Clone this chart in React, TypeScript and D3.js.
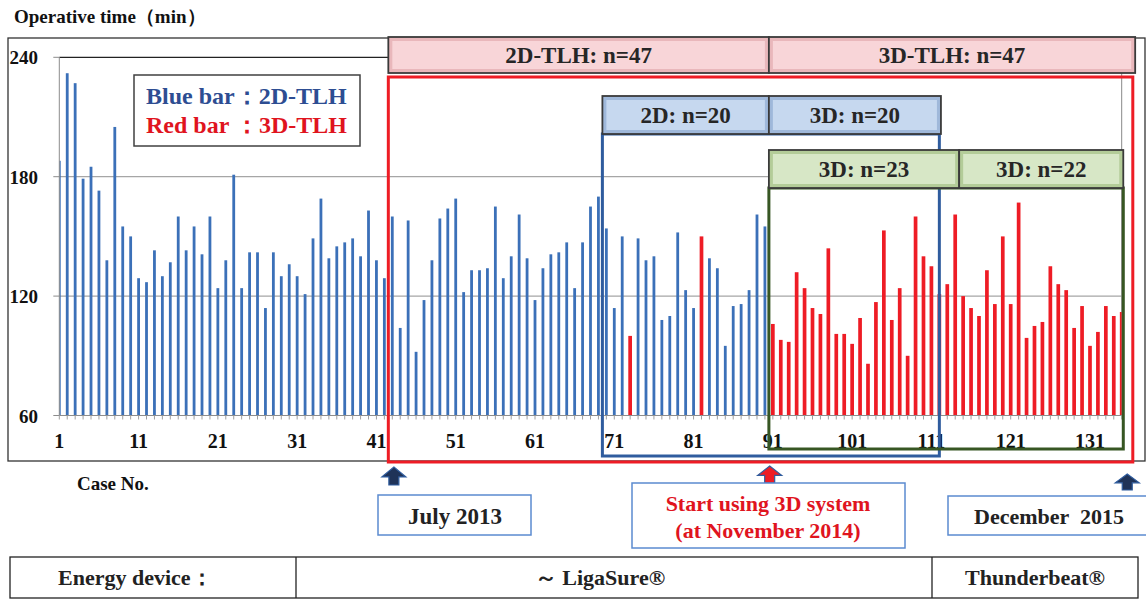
import React from "react";
import * as d3 from "d3";

// operative time (min) per case
const opTimes = [
  188, 232, 227, 179, 185, 173, 138, 205, 155, 150,
  129, 127, 143, 130, 137, 160, 143, 155, 141, 160,
  124, 138, 181, 124, 142, 142, 114, 142, 130, 136,
  130, 121, 149, 169, 139, 145, 147, 149, 140, 163,
  138, 129, 160, 104, 158, 92, 118, 138, 159, 164,
  169, 122, 133, 133, 134, 165, 129, 140, 161, 139,
  118, 134, 141, 142, 147, 124, 147, 165, 170, 154,
  114, 150, 100, 149, 138, 140, 108, 110, 152, 123,
  114, 150, 139, 134, 95, 115, 116, 123, 161, 155,
  106, 98, 97, 132, 124, 114, 111, 144, 101, 101,
  96, 109, 86, 117, 153, 108, 124, 90, 160, 140,
  135, 121, 126, 161, 120, 114, 110, 133, 116, 150,
  116, 167, 99, 105, 107, 135, 126, 123, 104, 115,
  95, 102, 115, 110, 112,
];
const caseNos = opTimes.map((_, i) => i + 1);
// 3D-TLH cases (red bars)
const redCases = [73, 82, ...caseNos.filter((c) => c >= 91)];
const yTicks = [60, 120, 180, 240];
const xTickLabels = [1, 11, 21, 31, 41, 51, 61, 71, 81, 91, 101, 111, 121, 131];

const BLUE = "#3b70b8";
const RED = "#ee1c25";
const SERIF = "'Liberation Serif', 'Times New Roman', serif";

const W = 1146;
const H = 599;

const Bevel = ({ x0, x1, y0, y1, fill, edge, label }) => (
  <g>
    <rect x={x0} y={y0} width={x1 - x0} height={y1 - y0} fill={edge} stroke="#3a3a3a" strokeWidth={1.8} />
    <rect x={x0 + 4} y={y0 + 4} width={x1 - x0 - 8} height={y1 - y0 - 8} fill={fill} />
    <text
      x={(x0 + x1) / 2}
      y={(y0 + y1) / 2 + 8}
      textAnchor="middle"
      fontFamily={SERIF}
      fontWeight="bold"
      fontSize={23}
      fill="#262626"
    >
      {label}
    </text>
  </g>
);

const UpArrow = ({ cx, top, bottom, fill, stroke }) => {
  const head = (bottom - top) * 0.55;
  const path = d3.path();
  path.moveTo(cx, top);
  path.lineTo(cx + 12, top + head);
  path.lineTo(cx + 5, top + head);
  path.lineTo(cx + 5, bottom);
  path.lineTo(cx - 5, bottom);
  path.lineTo(cx - 5, top + head);
  path.lineTo(cx - 12, top + head);
  path.closePath();
  return <path d={path.toString()} fill={fill} stroke={stroke} strokeWidth={1.2} />;
};

export default function App() {
  const x = d3.scaleLinear().domain([1, 135]).range([59.3, 1121.7]);
  const y = d3.scaleLinear().domain([60, 240]).range([415.5, 57.3]);
  const [px0, px1] = x.range();

  const blueW = 2.8;
  const redW = 3.7;

  return (
    <svg width={W} height={H} style={{ position: "absolute", left: 0, top: 0, background: "#fff" }}>
      <defs>
        <clipPath id="plotClip">
          <rect x={px0} y={y(240)} width={px1 - px0} height={y(60) - y(240)} />
        </clipPath>
      </defs>

      {/* title */}
      <text x={14} y={23} fontFamily={SERIF} fontWeight="bold" fontSize={19} fill="#111">
        Operative time（min）
      </text>

      {/* chart frame */}
      <rect x={8} y={38} width={1137} height={423} fill="none" stroke="#333" strokeWidth={1.3} />

      {/* gridlines */}
      {yTicks.slice(1, 3).map((t) => (
        <line key={t} x1={px0} x2={px1} y1={y(t)} y2={y(t)} stroke="#a6a6a6" strokeWidth={1.2} />
      ))}
      <line x1={px0} x2={px1} y1={y(240)} y2={y(240)} stroke="#222" strokeWidth={1.2} />
      <line x1={px1} x2={px1} y1={y(240)} y2={y(60)} stroke="#888" strokeWidth={1} />

      {/* bars */}
      <g clipPath="url(#plotClip)">
        {caseNos.map((c, i) => {
          const red = redCases.includes(c);
          const w = red ? redW : blueW;
          return (
            <rect
              key={c}
              x={x(c) - w / 2}
              y={y(opTimes[i])}
              width={w}
              height={y(60) - y(opTimes[i])}
              fill={red ? RED : BLUE}
            />
          );
        })}
      </g>

      {/* y axis */}
      <line x1={px0} x2={px0} y1={y(240)} y2={y(60)} stroke="#8c8c8c" strokeWidth={1} />
      {yTicks.map((t) => (
        <g key={t}>
          <line x1={px0 - 6} x2={px0} y1={y(t)} y2={y(t)} stroke="#8c8c8c" />
          <text x={38} y={y(t) + 7} textAnchor="end" fontFamily={SERIF} fontWeight="bold" fontSize={19} fill="#111">
            {t}
          </text>
        </g>
      ))}

      {/* x axis */}
      <line x1={px0} x2={px1} y1={y(60)} y2={y(60)} stroke="#8c8c8c" strokeWidth={1} />
      {caseNos.map((c) => (
        <line key={c} x1={x(c)} x2={x(c)} y1={y(60)} y2={y(60) + 4} stroke="#a0a0a0" />
      ))}
      {xTickLabels.map((t) => (
        <text key={t} x={x(t)} y={448} textAnchor="middle" fontFamily={SERIF} fontWeight="bold" fontSize={20} fill="#111">
          {t}
        </text>
      ))}
      <text x={77} y={490} fontFamily={SERIF} fontWeight="bold" fontSize={19} fill="#111">
        Case No.
      </text>

      {/* legend */}
      <rect x={134} y={75} width={226} height={71} fill="#fff" stroke="#404040" strokeWidth={1.5} />
      <text x={146} y={104} fontFamily={SERIF} fontWeight="bold" fontSize={24} fill="#2d4d92">
        Blue bar：2D-TLH
      </text>
      <text x={146} y={133} fontFamily={SERIF} fontWeight="bold" fontSize={24} fill="#e0141e">
        Red bar ：3D-TLH
      </text>

      {/* group boxes */}
      <rect x={x(42.5)} y={77} width={x(136.4) - x(42.5)} height={462 - 77} fill="none" stroke={RED} strokeWidth={3} />
      <rect x={x(69.5)} y={134} width={x(112) - x(69.5)} height={456 - 134} fill="none" stroke="#2f5c9e" strokeWidth={3} />
      <rect x={x(90.5)} y={188} width={x(135.2) - x(90.5)} height={449 - 188} fill="none" stroke="#375623" strokeWidth={3} />

      <Bevel x0={x(42.5)} x1={x(90.5)} y0={37} y1={73} fill="#f8d5d8" edge="#e9b7bb" label="2D-TLH: n=47" />
      <Bevel x0={x(90.5)} x1={x(136.7)} y0={37} y1={73} fill="#f8d5d8" edge="#e9b7bb" label="3D-TLH: n=47" />
      <Bevel x0={x(69.5)} x1={x(90.5)} y0={96} y1={134} fill="#c6d8ef" edge="#9fb8da" label="2D: n=20" />
      <Bevel x0={x(90.5)} x1={x(112.2)} y0={96} y1={134} fill="#c6d8ef" edge="#9fb8da" label="3D: n=20" />
      <Bevel x0={x(90.5)} x1={x(114.5)} y0={150} y1={188} fill="#d7e7c6" edge="#b3cc98" label="3D: n=23" />
      <Bevel x0={x(114.5)} x1={x(135.2)} y0={150} y1={188} fill="#d7e7c6" edge="#b3cc98" label="3D: n=22" />

      {/* timeline notes */}
      <UpArrow cx={x(43.2)} top={467} bottom={485} fill="#1f3358" stroke="#2f5c9e" />
      <rect x={378} y={495} width={153} height={40} fill="#fff" stroke="#5b8bd0" strokeWidth={1.5} />
      <text x={455} y={524} textAnchor="middle" fontFamily={SERIF} fontWeight="bold" fontSize={23} fill="#222">
        July 2013
      </text>

      <UpArrow cx={x(90.6)} top={466} bottom={483} fill={RED} stroke="#2f5c9e" />
      <rect x={632} y={483} width={273} height={65} fill="#fff" stroke="#5b8bd0" strokeWidth={1.5} />
      <text x={768} y={511} textAnchor="middle" fontFamily={SERIF} fontWeight="bold" fontSize={22} fill="#e0141e">
        Start using 3D system
      </text>
      <text x={768} y={538} textAnchor="middle" fontFamily={SERIF} fontWeight="bold" fontSize={22} fill="#e0141e">
        (at November 2014)
      </text>

      <UpArrow cx={x(135.7)} top={474} bottom={490} fill="#1f3358" stroke="#2f5c9e" />
      <rect x={948} y={496} width={210} height={39} fill="#fff" stroke="#5b8bd0" strokeWidth={1.5} />
      <text x={1049} y={524} textAnchor="middle" fontFamily={SERIF} fontWeight="bold" fontSize={22} fill="#222" style={{ whiteSpace: "pre" }}>
        December  2015
      </text>

      {/* energy device table */}
      <rect x={10} y={557} width={1128} height={41} fill="#fff" stroke="#222" strokeWidth={1.3} />
      <line x1={296} x2={296} y1={557} y2={598} stroke="#222" strokeWidth={1.3} />
      <line x1={932} x2={932} y1={557} y2={598} stroke="#222" strokeWidth={1.3} />
      <text x={58} y={585} fontFamily={SERIF} fontWeight="bold" fontSize={22} fill="#222">
        Energy device：
      </text>
      <text x={600} y={585} textAnchor="middle" fontFamily={SERIF} fontWeight="bold" fontSize={22} fill="#222">
        ～ LigaSure®
      </text>
      <text x={1035} y={585} textAnchor="middle" fontFamily={SERIF} fontWeight="bold" fontSize={22} fill="#222">
        Thunderbeat®
      </text>
    </svg>
  );
}
